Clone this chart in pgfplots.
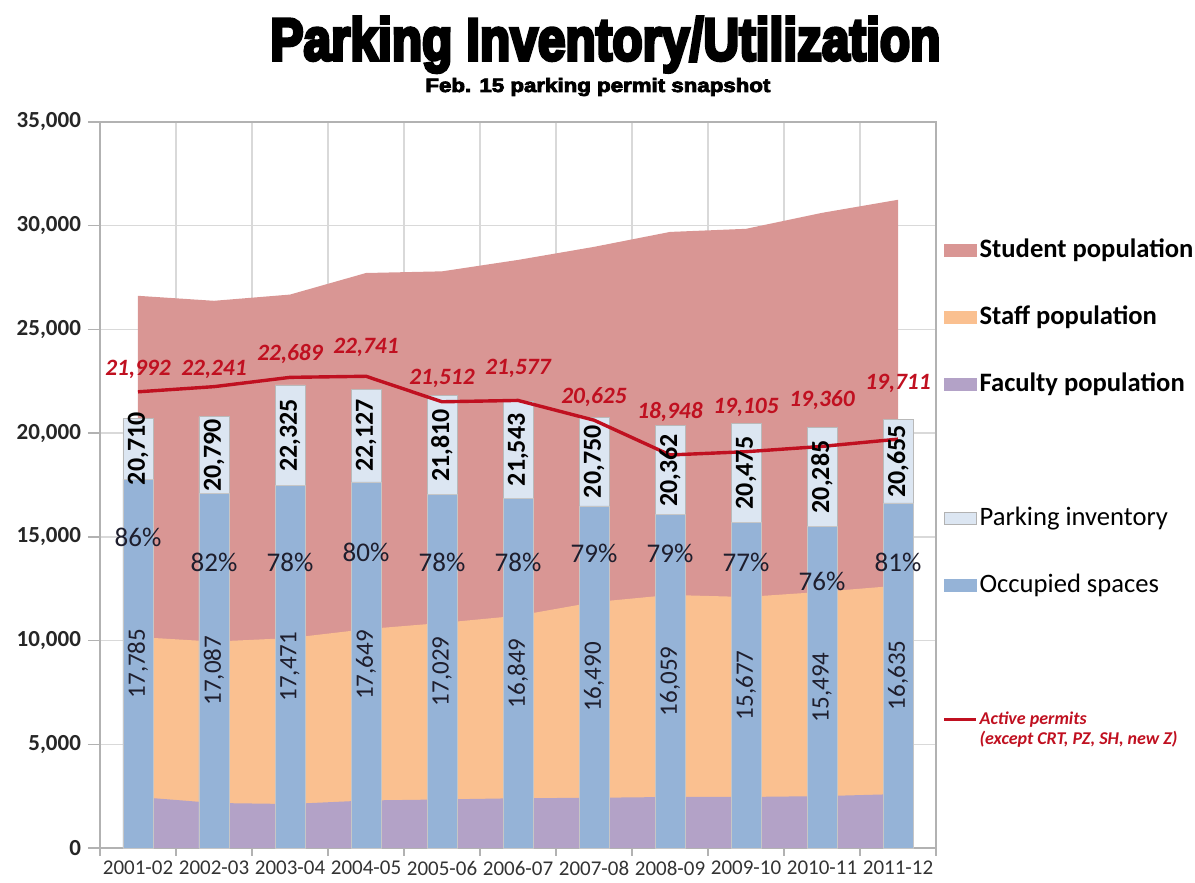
\documentclass[border=0pt]{standalone}
\usepackage{graphicx}
\usepackage{pgfplots}
\pgfplotsset{compat=1.18}
\usepackage{pgfplotstable}
\usepackage{fontspec}
\setmainfont{Carlito}
\newfontfamily\titlefont{Liberation Sans}[BoldFeatures={FakeBold=6}]
\newfontfamily\subfont{Liberation Sans}[BoldFeatures={FakeBold=4}]
\definecolor{studc}{HTML}{D99694}
\definecolor{staffc}{HTML}{FAC090}
\definecolor{facc}{HTML}{B3A2C7}
\definecolor{occc}{HTML}{95B3D7}
\definecolor{invc}{HTML}{DCE6F2}
\definecolor{permc}{RGB}{192,16,32}
\definecolor{labc}{RGB}{30,30,45}

\pgfplotstableread{
x fac staff tot occ inv perm ly pct py
0 2460 10170 26620 17785 20710 21992 23050 86 14950
1 2170 9950 26380 17087 20790 22241 23050 82 13790
2 2120 10120 26680 17471 22325 22689 23820 78 13790
3 2290 10550 27720 17649 22127 22741 24110 80 14270
4 2340 10850 27800 17029 21810 21512 22660 78 13790
5 2400 11200 28350 16849 21543 21577 23140 78 13790
6 2420 11850 28980 16490 20750 20625 21750 79 14220
7 2460 12200 29700 16059 20362 18948 21020 79 14220
8 2460 12100 29850 15677 20475 19105 21260 77 13790
9 2500 12350 30620 15494 20285 19360 21600 76 12830
10 2600 12650 31250 16635 20655 19711 22420 81 13790
}\data

\begin{document}
\begin{tikzpicture}
\useasboundingbox (-50pt,-17.5pt) rectangle (547.5pt,424pt);
\begin{axis}[
  at={(0pt,0pt)}, anchor=south west,
  scale only axis, width=418pt, height=363pt,
  xmin=-0.5, xmax=10.5, ymin=0, ymax=35000,
  xtick={0,...,10},
  xticklabels={2001-02,2002-03,2003-04,2004-05,2005-06,2006-07,2007-08,2008-09,2009-10,2010-11,2011-12},
  minor xtick={-0.5,0.5,...,10.5},
  xminorgrids,
  every major x tick/.append style={draw=none},
  ytick={0,5000,...,35000},
  ymajorgrids,
  tick pos=left,
  grid style={gray!30, line width=0.7pt},
  minor grid style={gray!30, line width=0.7pt},
  tick align=outside,
  major tick length=6pt, minor tick length=4pt,
  tick style={gray!60, line width=0.7pt},
  axis line style={gray!60, line width=0.8pt},
  scaled y ticks=false,
  /pgf/number format/assume math mode=true,
  yticklabel style={/pgf/number format/fixed, /pgf/number format/1000 sep={,}, font=\bfseries\fontsize{11.5}{13}\selectfont, text=black!85},
  xticklabel style={font=\fontsize{10.5}{12}\selectfont, text=black!80, yshift=3pt},
  clip=false,
  legend cell align=left,
  legend style={at={(1.0072,0.844)}, anchor=north west, draw=none, fill=none,
    inner sep=0pt, row sep=18.5pt,
    font=\fontsize{13.3}{14}\selectfont,
    nodes={text height=10pt, text depth=3pt, inner sep=1pt}},
]
% stacked population areas (cumulative tops)
\addplot[fill=studc, draw=none, forget plot] table[x=x, y=tot]{\data} \closedcycle;
\addplot[fill=staffc, draw=none, forget plot] table[x=x, y=staff]{\data} \closedcycle;
\addplot[fill=facc, draw=none, forget plot] table[x=x, y=fac]{\data} \closedcycle;
% bars
\addplot[ybar, bar width=15pt, bar shift=0pt, fill=invc, draw=gray!55, forget plot] table[x=x, y=inv]{\data};
\addplot[ybar, bar width=15pt, bar shift=0pt, fill=occc, draw=gray!45, forget plot] table[x=x, y=occ]{\data};
% active permits
\addplot[permc, line width=1.7pt, mark=none, forget plot] table[x=x, y=perm]{\data};
% labels: occupied
\addplot[draw=none, mark=none, forget plot, point meta=explicit,
  nodes near coords={\pgfmathprintnumber[fixed, precision=0, 1000 sep={,}]{\pgfplotspointmeta}},
  every node near coord/.append style={anchor=center, rotate=90, inner sep=0pt, text=labc, font=\fontsize{12.5}{13}\selectfont}]
  table[x=x, y expr=\thisrow{occ}/2, meta=occ]{\data};
% labels: inventory
\addplot[draw=none, mark=none, forget plot, point meta=explicit,
  nodes near coords={\pgfmathprintnumber[fixed, precision=0, 1000 sep={,}]{\pgfplotspointmeta}},
  every node near coord/.append style={anchor=center, rotate=90, inner sep=0pt, text=black, font=\bfseries\fontsize{13}{14}\selectfont}]
  table[x=x, y expr=(\thisrow{occ}+\thisrow{inv})/2, meta=inv]{\data};
% labels: percent
\addplot[draw=none, mark=none, forget plot, point meta=explicit,
  nodes near coords={\pgfmathprintnumber[fixed, precision=0]{\pgfplotspointmeta}\%},
  every node near coord/.append style={anchor=center, inner sep=0pt, text=labc, font=\fontsize{13.5}{14}\selectfont}]
  table[x=x, y=py, meta=pct]{\data};
% labels: permits
\addplot[draw=none, mark=none, forget plot, point meta=explicit,
  nodes near coords={\pgfmathprintnumber[fixed, precision=0, 1000 sep={,}]{\pgfplotspointmeta}},
  every node near coord/.append style={anchor=center, inner sep=0pt, text=permc, font=\bfseries\itshape\fontsize{11.7}{13}\selectfont}]
  table[x=x, y=ly, meta=perm]{\data};
% legend
\addlegendimage{legend image code/.code={\fill[studc] (0pt,-3pt) rectangle (16pt,3pt);}}
\addlegendentry{\bfseries Student population}
\addlegendimage{legend image code/.code={\fill[staffc] (0pt,-3pt) rectangle (16pt,3pt);}}
\addlegendentry{\bfseries Staff population}
\addlegendimage{legend image code/.code={\fill[facc] (0pt,-3pt) rectangle (16pt,3pt);}}
\addlegendentry{\bfseries Faculty population}
\addlegendimage{empty legend}
\addlegendentry{\phantom{X}}
\addlegendimage{legend image code/.code={\filldraw[fill=invc, draw=gray!60] (0pt,-3pt) rectangle (16pt,3pt);}}
\addlegendentry{Parking inventory}
\addlegendimage{legend image code/.code={\fill[occc] (0pt,-3pt) rectangle (16pt,3pt);}}
\addlegendentry{Occupied spaces}
\addlegendimage{empty legend}
\addlegendentry{\phantom{X}}
\addlegendimage{legend image code/.code={\draw[permc, line width=1.6pt] (0pt,0pt) -- (16pt,0pt);}}
\addlegendentry{\smash{\raisebox{7.5pt}{\vtop{\baselineskip=10pt\fontsize{9}{10}\selectfont\bfseries\itshape\color{permc}\hbox{Active permits}\hbox{(except CRT, PZ, SH, new Z)}}}}}
\end{axis}
\node[anchor=base west, inner sep=0pt] at (85pt,394pt) {\resizebox{335pt}{21.5pt}{\titlefont\bfseries Parking Inventory/Utilization}};
\node[anchor=base west, inner sep=0pt] at (162.5pt,378pt) {\resizebox{172.5pt}{7pt}{\subfont\bfseries Feb. 15 parking permit snapshot}};
\end{tikzpicture}
\end{document}
